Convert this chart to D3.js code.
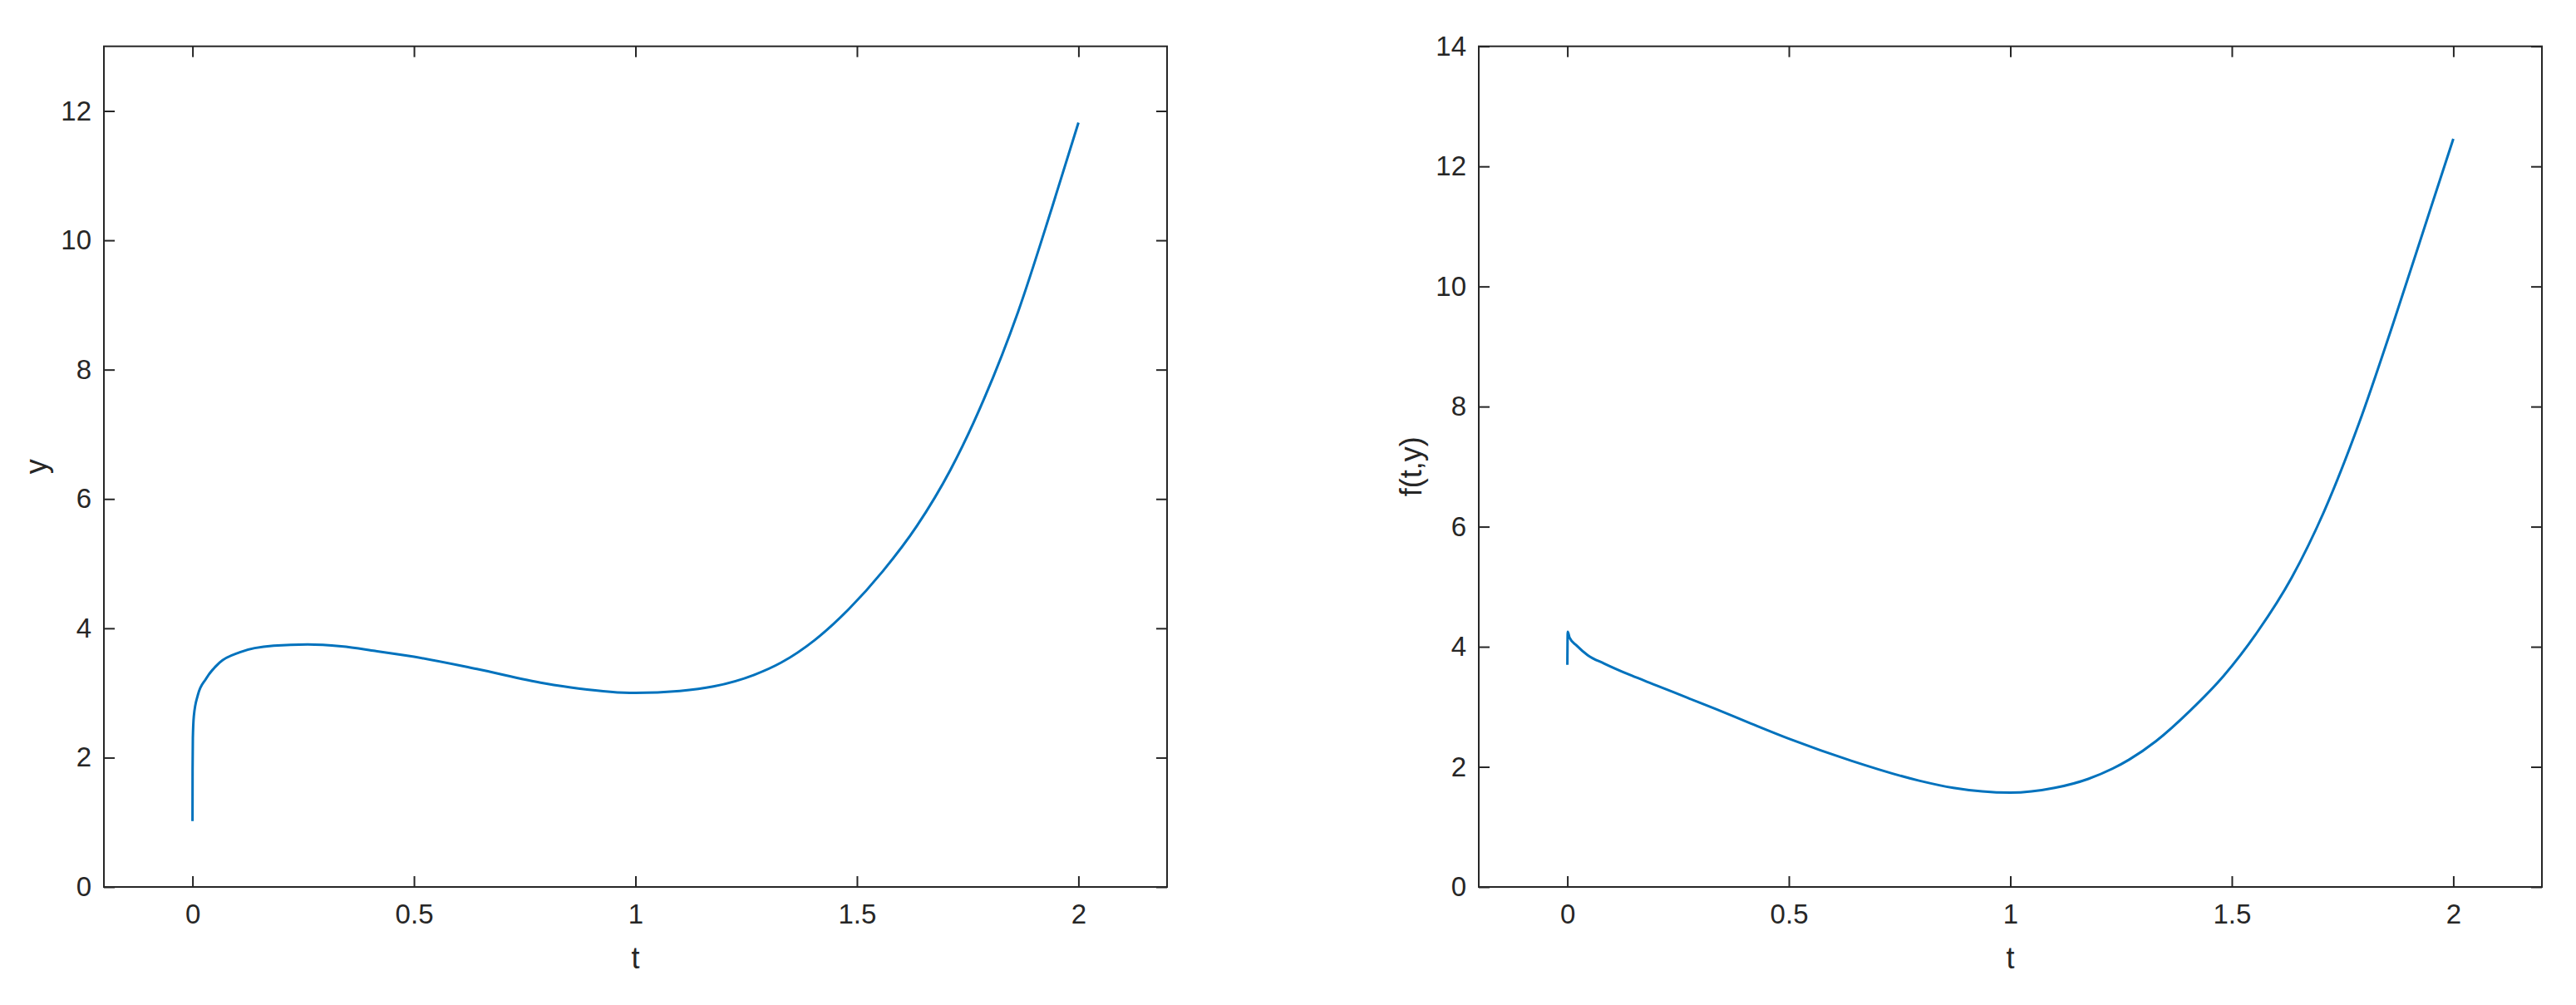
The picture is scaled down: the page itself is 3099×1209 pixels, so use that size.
<!DOCTYPE html>
<html><head><meta charset="utf-8">
<script src="https://cdn.jsdelivr.net/npm/d3@7"></script>
<style>
body{margin:0;background:#fff}
</style>
</head><body>
<svg id="c" width="3099" height="1209"></svg>
<script>
// ---- data ----
const tLeft = [0, 0.0002, 0.0008, 0.003, 0.0122, 0.0306, 0.061, 0.107, 0.183, 0.26, 0.336, 0.412, 0.5, 0.642, 0.794, 0.871, 1.0, 1.1, 1.176, 1.268, 1.329, 1.405, 1.482, 1.558, 1.635, 1.711, 1.787, 1.864, 1.94, 2.0];
const yLeft = [1.02, 1.8, 2.3, 2.64, 2.97, 3.22, 3.47, 3.63, 3.73, 3.75, 3.72, 3.65, 3.56, 3.37, 3.15, 3.07, 3.0, 3.03, 3.1, 3.28, 3.47, 3.82, 4.3, 4.88, 5.58, 6.45, 7.55, 8.9, 10.5, 11.82];

const tRight = [0, 0.0008, 0.005, 0.021, 0.046, 0.0835, 0.145, 0.2, 0.271, 0.336, 0.412, 0.5, 0.642, 0.794, 0.871, 1.0, 1.1, 1.176, 1.268, 1.329, 1.405, 1.482, 1.558, 1.635, 1.711, 1.787, 1.864, 1.94, 2.0];
const fRight = [3.70, 4.25, 4.15, 4.02, 3.86, 3.72, 3.52, 3.36, 3.15, 2.96, 2.73, 2.47, 2.10, 1.77, 1.65, 1.57, 1.65, 1.8, 2.12, 2.43, 2.93, 3.52, 4.25, 5.15, 6.3, 7.72, 9.38, 11.1, 12.46];

const xTicks = [0, 0.5, 1, 1.5, 2];
const xTickLabels = ["0", "0.5", "1", "1.5", "2"];
const yTicksLeft = [0, 2, 4, 6, 8, 10, 12];
const yTicksRight = [0, 2, 4, 6, 8, 10, 12, 14];
const xDomain = [-0.2, 2.2];

// ---- drawing ----
const svg = d3.select("#c");
const FONT = "'Liberation Sans', Arial, Helvetica, sans-serif";
const INK = "#262626";
const BLUE = "#0072BD";
const Y0 = 55.7, Y1 = 1067;
const TICK = 13;

function styleAxis(g, fontSize) {
  g.attr("font-family", FONT).attr("font-size", fontSize);
  g.selectAll("path.domain").remove();
  g.selectAll(".tick line").attr("stroke", INK).attr("stroke-width", 2);
  g.selectAll(".tick text").attr("fill", INK);
}

function panel(x0, x1, yMax, ticksY, ts, vs, ylabel, ylabelX) {
  const x = d3.scaleLinear().domain(xDomain).range([x0, x1]);
  const y = d3.scaleLinear().domain([0, yMax]).range([Y1, Y0]);
  const g = svg.append("g");

  // curve
  const pts = ts.map((t, i) => [t, vs[i]]);
  g.append("path")
    .datum(pts)
    .attr("fill", "none")
    .attr("stroke", BLUE)
    .attr("stroke-width", 3)
    .attr("stroke-linejoin", "round")
    .attr("d", d3.line().x(d => x(d[0])).y(d => y(d[1])).curve(d3.curveMonotoneX));

  // axes
  const fmt = (d) => xTickLabels[xTicks.indexOf(d)];
  g.append("g").attr("transform", `translate(0,${Y1})`)
    .call(d3.axisBottom(x).tickValues(xTicks).tickFormat(fmt).tickSizeInner(-TICK).tickSizeOuter(0).tickPadding(21))
    .call(a => styleAxis(a, 33));
  g.append("g").attr("transform", `translate(0,${Y0})`)
    .call(d3.axisTop(x).tickValues(xTicks).tickFormat("").tickSizeInner(-TICK).tickSizeOuter(0))
    .call(a => styleAxis(a, 33));
  g.append("g").attr("transform", `translate(${x0},0)`)
    .call(d3.axisLeft(y).tickValues(ticksY).tickFormat(d3.format("d")).tickSizeInner(-TICK).tickSizeOuter(0).tickPadding(15))
    .call(a => styleAxis(a, 33));
  g.append("g").attr("transform", `translate(${x1},0)`)
    .call(d3.axisRight(y).tickValues(ticksY).tickFormat("").tickSizeInner(-TICK).tickSizeOuter(0))
    .call(a => styleAxis(a, 33));

  // box
  g.append("rect")
    .attr("x", x0).attr("y", Y0)
    .attr("width", x1 - x0).attr("height", Y1 - Y0)
    .attr("fill", "none").attr("stroke", INK).attr("stroke-width", 2);

  // labels
  g.append("text")
    .attr("x", (x0 + x1) / 2).attr("y", 1165)
    .attr("text-anchor", "middle")
    .attr("font-family", FONT).attr("font-size", 36).attr("fill", INK)
    .text("t");
  g.append("text")
    .attr("transform", `translate(${ylabelX},${(Y0 + Y1) / 2}) rotate(-90)`)
    .attr("text-anchor", "middle")
    .attr("font-family", FONT).attr("font-size", 36).attr("fill", INK)
    .text(ylabel);
}

panel(125, 1404, 13, yTicksLeft, tLeft, yLeft, "y", 56);
panel(1779, 3058, 14, yTicksRight, tRight, fRight, "f(t,y)", 1710);
</script>
</body></html>
